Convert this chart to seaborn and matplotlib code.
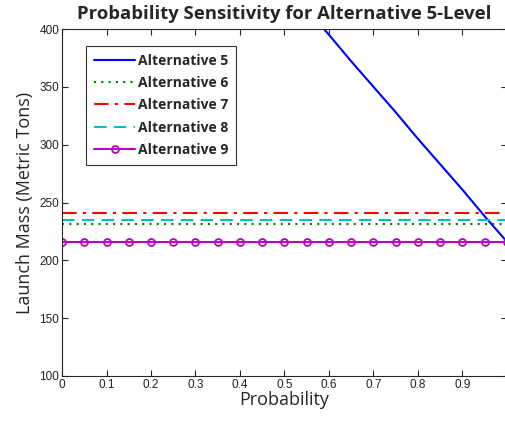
import numpy as np
import pandas as pd
import matplotlib
matplotlib.use("Agg")
import matplotlib.pyplot as plt
import seaborn as sns

# --- Data ---
probability = [0.0, 0.05, 0.1, 0.15, 0.2, 0.25, 0.3, 0.35, 0.4, 0.45, 0.5,
               0.55, 0.6, 0.65, 0.7, 0.75, 0.8, 0.85, 0.9, 0.95, 1.0]
alt5 = [663, 640, 618, 596, 573, 551, 529, 506, 484, 462, 439,
        417, 395, 372, 350, 328, 305, 283, 261, 238, 216]
alt6 = [231] * 21
alt7 = [240.5] * 21
alt8 = [235] * 21
alt9 = [216] * 21

series_names = ["Alternative 5", "Alternative 6", "Alternative 7",
                "Alternative 8", "Alternative 9"]
x_ticks = [0, 0.1, 0.2, 0.3, 0.4, 0.5, 0.6, 0.7, 0.8, 0.9, 1]
x_tick_labels = ["0", "0.1", "0.2", "0.3", "0.4", "0.5", "0.6", "0.7", "0.8", "0.9", "1"]
y_ticks = [100, 150, 200, 250, 300, 350, 400]


def main():
	sns.set_style("ticks")
	plt.rcParams["font.family"] = ["Liberation Sans", "DejaVu Sans"]

	df = pd.DataFrame({"Probability": probability})
	for name, vals in zip(series_names, [alt5, alt6, alt7, alt8, alt9]):
		df[name] = vals
	long = df.melt(id_vars="Probability", var_name="Series", value_name="Mass")

	styles = {
		"Alternative 5": dict(color="#0000ff", linestyle="-", marker=None),
		"Alternative 6": dict(color="#008000", linestyle=(0, (1, 2.5)), marker=None),
		"Alternative 7": dict(color="#ff0000", linestyle=(0, (7, 3, 1.5, 3)), marker=None),
		"Alternative 8": dict(color="#00bfbf", linestyle=(0, (6, 3.5)), marker=None),
		"Alternative 9": dict(color="#bf00bf", linestyle="-", marker="o"),
	}

	fig = plt.figure(figsize=(5.06, 4.26), dpi=100)
	ax = fig.add_axes([62 / 506, 1 - 376 / 426, 445 / 506, 347 / 426])

	for name in series_names:
		sub = long[long["Series"] == name]
		st = styles[name]
		sns.lineplot(
			data=sub, x="Probability", y="Mass", ax=ax,
			color=st["color"], linestyle=st["linestyle"], linewidth=1.5,
			marker=st["marker"], markersize=5, markerfacecolor="none",
			markeredgecolor=st["color"], markeredgewidth=1.3,
			label=name, clip_on=True,
		)

	ax.set_xlim(0, 1)
	ax.set_ylim(100, 400)
	ax.set_xticks(x_ticks)
	ax.set_xticklabels(x_tick_labels)
	ax.set_yticks(y_ticks)
	ax.tick_params(direction="in", length=4, width=0.8, top=True, right=True,
		labelsize=8.5, labelcolor="#222222", pad=2)
	for s in ax.spines.values():
		s.set_linewidth(0.8)
	ax.spines["right"].set_visible(False)

	ax.set_xlabel("Probability", fontsize=13, family=["Open Sans", "DejaVu Sans"], labelpad=0)
	ax.set_ylabel("Launch Mass (Metric Tons)", fontsize=13, family=["Open Sans", "DejaVu Sans"], labelpad=4)
	ax.set_title("Probability Sensitivity for Alternative 5-Level", fontsize=13.3,
		fontweight="bold", family=["Open Sans", "DejaVu Sans"], pad=7)

	leg = ax.legend(loc="upper left", bbox_to_anchor=(0.054, 0.951), frameon=True,
		fancybox=False, edgecolor="#333333", framealpha=1, borderaxespad=0,
		prop={"family": ["Open Sans", "DejaVu Sans"], "weight": "bold", "size": 10},
		handlelength=3.0, handletextpad=0.2, labelspacing=0.6, borderpad=0.55)
	leg.get_frame().set_linewidth(0.8)

	fig.savefig("out.png", dpi=100)


if __name__ == "__main__":
	main()
